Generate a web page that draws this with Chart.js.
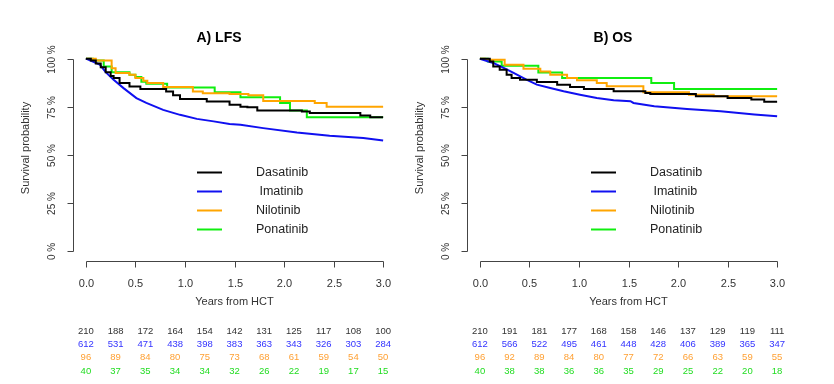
<!DOCTYPE html>
<html>
<head>
<meta charset="utf-8">
<script src="https://cdn.jsdelivr.net/npm/chart.js@4.4.1/dist/chart.umd.min.js"></script>
<style>
    html, body { margin: 0; padding: 0; background: #fff; }
    #wrap { position: relative; width: 834px; height: 384px; overflow: hidden; }
    canvas { position: absolute; top: 0; }
</style>
</head>
<body>
<div id="wrap">
    <canvas id="lfsChart" width="400" height="384" style="left:0"></canvas>
    <canvas id="osChart" width="440" height="384" style="left:394px"></canvas>
</div>
<script>
// Names and colours
const drugNames = ['Dasatinib', 'Imatinib', 'Nilotinib', 'Ponatinib'];
const legendLabels = ['Dasatinib', ' Imatinib', 'Nilotinib', 'Ponatinib'];
const drugColors = ['#000000', '#1010f0', '#ffa500', '#10ee10'];

// Axis ticks
const xTicks = [0, 0.5, 1, 1.5, 2, 2.5, 3];
const xTickLabels = ['0.0', '0.5', '1.0', '1.5', '2.0', '2.5', '3.0'];
const yTicks = [0, 0.25, 0.5, 0.75, 1];
const yTickLabels = ['0 %', '25 %', '50 %', '75 %', '100 %'];

// A) LFS curves (years, survival)
const lfsDasaT = [0, 0.05, 0.1, 0.15, 0.2, 0.25, 0.28, 0.34, 0.44, 0.55, 0.81, 0.88, 0.95, 1.22, 1.45, 1.56, 1.63, 1.73, 2.18, 2.26, 2.77, 2.87, 3.0];
const lfsDasaS = [1, 0.99, 0.975, 0.955, 0.93, 0.91, 0.9, 0.873, 0.856, 0.842, 0.83, 0.81, 0.79, 0.778, 0.76, 0.75, 0.748, 0.73, 0.725, 0.717, 0.705, 0.695, 0.695];
const lfsImaT = [0, 0.07, 0.14, 0.2, 0.28, 0.38, 0.51, 0.61, 0.78, 0.95, 1.12, 1.29, 1.45, 1.56, 1.79, 2.13, 2.46, 2.8, 3.0];
const lfsImaS = [1, 0.985, 0.969, 0.93, 0.89, 0.847, 0.795, 0.77, 0.734, 0.708, 0.687, 0.674, 0.661, 0.656, 0.639, 0.616, 0.599, 0.587, 0.575];
const lfsNiloT = [0, 0.1, 0.26, 0.3, 0.44, 0.5, 0.58, 0.62, 0.78, 1.08, 1.18, 1.45, 1.64, 1.79, 2.31, 2.43, 3.0];
const lfsNiloS = [1, 0.99, 0.95, 0.925, 0.917, 0.9, 0.885, 0.873, 0.853, 0.83, 0.82, 0.816, 0.81, 0.78, 0.77, 0.75, 0.75];
const lfsPonaT = [0, 0.07, 0.18, 0.26, 0.44, 0.5, 0.56, 0.61, 0.82, 1.3, 1.56, 1.96, 2.06, 2.23, 3.0];
const lfsPonaS = [1, 0.99, 0.96, 0.93, 0.917, 0.905, 0.88, 0.87, 0.85, 0.825, 0.8, 0.77, 0.73, 0.695, 0.695];

// B) OS curves (years, survival)
const osDasaT = [0, 0.1, 0.135, 0.2, 0.27, 0.32, 0.405, 0.575, 0.78, 0.91, 1.05, 1.35, 1.67, 1.72, 2.18, 2.5, 2.74, 2.87, 3.0];
const osDasaS = [1, 0.986, 0.96, 0.943, 0.917, 0.9, 0.891, 0.879, 0.865, 0.853, 0.843, 0.831, 0.822, 0.817, 0.805, 0.796, 0.788, 0.776, 0.776];
const osImaT = [0, 0.135, 0.24, 0.34, 0.47, 0.575, 0.71, 0.845, 1.01, 1.18, 1.35, 1.52, 1.55, 1.76, 2.09, 2.43, 2.77, 3.0];
const osImaS = [1, 0.978, 0.952, 0.926, 0.891, 0.865, 0.848, 0.831, 0.813, 0.796, 0.784, 0.779, 0.77, 0.753, 0.739, 0.727, 0.71, 0.701];
const osNiloT = [0, 0.05, 0.25, 0.44, 0.61, 0.71, 0.88, 0.98, 1.18, 1.28, 1.65, 2.11, 2.36, 3.0];
const osNiloS = [1, 0.995, 0.969, 0.948, 0.934, 0.917, 0.9, 0.888, 0.874, 0.857, 0.825, 0.813, 0.805, 0.805];
const osPonaT = [0, 0.08, 0.22, 0.59, 0.83, 1.73, 1.96, 3.0];
const osPonaS = [1, 0.986, 0.963, 0.928, 0.9, 0.873, 0.842, 0.842];

// Numbers at risk
const riskTimes = [0, 0.3, 0.6, 0.9, 1.2, 1.5, 1.8, 2.1, 2.4, 2.7, 3.0];
const lfsRiskDasa = [210, 188, 172, 164, 154, 142, 131, 125, 117, 108, 100];
const lfsRiskIma = [612, 531, 471, 438, 398, 383, 363, 343, 326, 303, 284];
const lfsRiskNilo = [96, 89, 84, 80, 75, 73, 68, 61, 59, 54, 50];
const lfsRiskPona = [40, 37, 35, 34, 34, 32, 26, 22, 19, 17, 15];
const osRiskDasa = [210, 191, 181, 177, 168, 158, 146, 137, 129, 119, 111];
const osRiskIma = [612, 566, 522, 495, 461, 448, 428, 406, 389, 365, 347];
const osRiskNilo = [96, 92, 89, 84, 80, 77, 72, 66, 63, 59, 55];
const osRiskPona = [40, 38, 38, 36, 36, 35, 29, 25, 22, 20, 18];

const FONT = '"Liberation Sans", Arial, sans-serif';

function toPoints(times, values) {
    return times.map((t, i) => ({ x: t, y: values[i] }));
}

function makeDatasets(curves) {
    return curves.map((c, i) => ({
        label: drugNames[i],
        data: toPoints(c[0], c[1]),
        borderColor: drugColors[i],
        borderWidth: 2,
        pointRadius: 0,
        fill: false,
        // Imatinib has so many events it reads as a smooth curve
        stepped: i === 1 ? false : 'before',
        tension: 0
    }));
}

// Draws R-style detached axes, title, legend and risk table
const kmDecor = {
    id: 'kmDecor',
    afterDraw(chart, args, opts) {
        const { ctx, chartArea: a } = chart;
        const xs = chart.scales.x, ys = chart.scales.y;
        ctx.save();
        ctx.strokeStyle = '#444';
        ctx.fillStyle = '#333';
        ctx.lineWidth = 1;

        // y axis
        const ax = Math.round(a.left) + 0.5;
        ctx.beginPath();
        ctx.moveTo(ax, Math.round(ys.getPixelForValue(0)) + 0.5);
        ctx.lineTo(ax, Math.round(ys.getPixelForValue(1)) + 0.5);
        ctx.stroke();
        ctx.font = '10px ' + FONT;
        ctx.textAlign = 'center';
        ctx.textBaseline = 'middle';
        yTicks.forEach((v, i) => {
            const py = Math.round(ys.getPixelForValue(v)) + 0.5;
            ctx.beginPath();
            ctx.moveTo(ax - 6, py);
            ctx.lineTo(ax, py);
            ctx.stroke();
            ctx.save();
            ctx.translate(ax - 21, py);
            ctx.rotate(-Math.PI / 2);
            ctx.fillText(yTickLabels[i], 0, 0);
            ctx.restore();
        });

        // x axis
        const ay = Math.round(a.bottom) + 0.5;
        ctx.beginPath();
        ctx.moveTo(Math.round(xs.getPixelForValue(0)) + 0.5, ay);
        ctx.lineTo(Math.round(xs.getPixelForValue(3)) + 0.5, ay);
        ctx.stroke();
        ctx.font = '11px ' + FONT;
        xTicks.forEach((v, i) => {
            const px = Math.round(xs.getPixelForValue(v)) + 0.5;
            ctx.beginPath();
            ctx.moveTo(px, ay);
            ctx.lineTo(px, ay + 6);
            ctx.stroke();
            ctx.fillText(xTickLabels[i], px, ay + 22);
        });

        // axis titles
        ctx.fillText('Years from HCT', (xs.getPixelForValue(0) + xs.getPixelForValue(3)) / 2, 302);
        ctx.save();
        ctx.translate(26, 148);
        ctx.rotate(-Math.PI / 2);
        ctx.fillText('Survival probability', 0, 0);
        ctx.restore();

        // title
        ctx.fillStyle = '#000';
        ctx.font = 'bold 14px ' + FONT;
        ctx.fillText(opts.title, 219, 38);

        // legend
        ctx.font = '12.5px ' + FONT;
        ctx.textAlign = 'left';
        const legY = [172.5, 191.5, 210.5, 229.5];
        legendLabels.forEach((lab, i) => {
            ctx.strokeStyle = drugColors[i];
            ctx.lineWidth = 2;
            ctx.beginPath();
            ctx.moveTo(197, legY[i]);
            ctx.lineTo(222, legY[i]);
            ctx.stroke();
            ctx.fillStyle = '#222';
            ctx.fillText(lab, 256, legY[i]);
        });

        // numbers at risk
        ctx.font = '9.5px ' + FONT;
        ctx.textAlign = 'center';
        const rowY = [331, 344, 357.5, 371];
        const textColors = ['#333333', '#3333ff', '#ffa033', '#22dd22'];
        opts.risk.forEach((row, r) => {
            ctx.fillStyle = textColors[r];
            row.forEach((n, i) => {
                ctx.fillText(String(n), xs.getPixelForValue(riskTimes[i]), rowY[r]);
            });
        });
        ctx.restore();
    }
};

function renderKM(id, curves, title, risk, padRight) {
    const ctx = document.getElementById(id).getContext('2d');
    return new Chart(ctx, {
        type: 'line',
        data: { datasets: makeDatasets(curves) },
        options: {
            responsive: false,
            animation: false,
            parsing: true,
            layout: { padding: { left: 73, right: padRight, top: 51, bottom: 123 } },
            plugins: {
                legend: { display: false },
                title: { display: false },
                tooltip: { enabled: false },
                kmDecor: { title: title, risk: risk }
            },
            scales: {
                x: { type: 'linear', min: -0.13, max: 3.13, display: false },
                y: { type: 'linear', min: -0.052, max: 1.04, display: false }
            }
        },
        plugins: [kmDecor]
    });
}

renderKM('lfsChart',
    [[lfsDasaT, lfsDasaS], [lfsImaT, lfsImaS], [lfsNiloT, lfsNiloS], [lfsPonaT, lfsPonaS]],
    'A) LFS',
    [lfsRiskDasa, lfsRiskIma, lfsRiskNilo, lfsRiskPona], 4);

renderKM('osChart',
    [[osDasaT, osDasaS], [osImaT, osImaS], [osNiloT, osNiloS], [osPonaT, osPonaS]],
    'B) OS',
    [osRiskDasa, osRiskIma, osRiskNilo, osRiskPona], 44);
</script>
</body>
</html>
